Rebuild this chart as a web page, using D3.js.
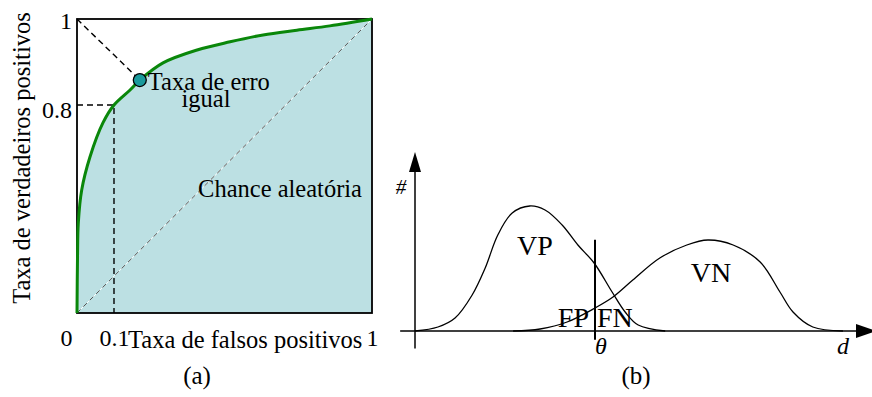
<!DOCTYPE html>
<html>
<head>
<meta charset="utf-8">
<script src="https://cdn.jsdelivr.net/npm/d3@7"></script>
<style>
  body { margin: 0; background: #fff; }
</style>
</head>
<body>
<svg id="fig" width="872" height="397"></svg>
<script>
// (a) ROC curve (false positive rate, true positive rate)
const rocFpr = [0, 0.0014, 0.0035, 0.0127, 0.035, 0.07, 0.1, 0.156, 0.19, 0.271, 0.39, 0.505, 0.62, 0.738, 0.853, 1];
const rocTpr = [0, 0.215, 0.346, 0.473, 0.6, 0.731, 0.8, 0.835, 0.858, 0.898, 0.928, 0.947, 0.963, 0.974, 0.984, 1];
const eerPoint = [0.19, 0.858];
const markPoint = [0.1, 0.8];
const rocXTicks = [0, 0.1, 1];
const rocYTicks = [0.8, 1];

// (b) score distributions (d, count)
const vpD = [0, 0.51, 0.89, 1.27, 1.56, 1.84, 2.16, 2.55, 2.89, 3.27, 3.62, 3.98, 4.38, 4.67, 4.96, 5.56];
const vpH = [0, 0.032, 0.104, 0.288, 0.504, 0.768, 0.944, 1.0, 0.968, 0.848, 0.688, 0.544, 0.312, 0.152, 0.048, 0];
const vnD = [2.18, 2.78, 3.38, 4.0, 4.4, 4.84, 5.44, 6.04, 6.51, 7.07, 7.67, 8.11, 8.4, 8.84, 9.51];
const vnH = [0, 0.016, 0.072, 0.184, 0.272, 0.408, 0.584, 0.688, 0.728, 0.688, 0.552, 0.312, 0.152, 0.032, 0];
const theta = 4.0;

const FONT = "'Liberation Serif', 'Times New Roman', serif";
const svg = d3.select("#fig");

function label(g, x, y, txt, size, anchor, italic) {
  return g.append("text")
    .attr("x", x).attr("y", y)
    .attr("text-anchor", anchor || "start")
    .attr("font-family", FONT)
    .attr("font-size", size)
    .attr("font-style", italic ? "italic" : "normal")
    .attr("fill", "#000")
    .text(txt);
}

// ---------- panel (a) ----------
// the sketch is not to scale: 0.1 and 0.8 sit where the drawing puts them
const xA = d3.scaleLinear().domain([0, 0.1, 1]).range([77, 114, 372]);
const yA = d3.scaleLinear().domain([0, 0.8, 1]).range([313, 105, 19]);

const roc = rocFpr.map((f, i) => [f, rocTpr[i]]);
const gA = svg.append("g");

const area = d3.area()
  .x(d => xA(d[0]))
  .y0(yA(0))
  .y1(d => yA(d[1]))
  .curve(d3.curveCatmullRom.alpha(0.5));

gA.append("path")
  .datum(roc)
  .attr("d", area)
  .attr("fill", "#bce0e3");

// chance line
gA.append("line")
  .attr("x1", xA(0)).attr("y1", yA(0))
  .attr("x2", xA(1)).attr("y2", yA(1))
  .attr("stroke", "#fff").attr("stroke-width", 1);
gA.append("line")
  .attr("x1", xA(0)).attr("y1", yA(0))
  .attr("x2", xA(1)).attr("y2", yA(1))
  .attr("stroke", "#555").attr("stroke-width", 1)
  .attr("stroke-dasharray", "5,4");

// dashed guides
gA.append("path")
  .attr("d", d3.line()([[xA(0), yA(markPoint[1])], [xA(markPoint[0]), yA(markPoint[1])], [xA(markPoint[0]), yA(0)]]))
  .attr("fill", "none").attr("stroke", "#000").attr("stroke-width", 1.4)
  .attr("stroke-dasharray", "6,4");
gA.append("line")
  .attr("x1", xA(0)).attr("y1", yA(1))
  .attr("x2", xA(eerPoint[0])).attr("y2", yA(eerPoint[1]))
  .attr("stroke", "#000").attr("stroke-width", 1.4)
  .attr("stroke-dasharray", "6,4");

// frame
gA.append("rect")
  .attr("x", xA(0)).attr("y", yA(1))
  .attr("width", xA(1) - xA(0)).attr("height", yA(0) - yA(1))
  .attr("fill", "none").attr("stroke", "#000").attr("stroke-width", 1.8);

gA.append("path")
  .datum(roc)
  .attr("d", d3.line().x(d => xA(d[0])).y(d => yA(d[1])).curve(d3.curveCatmullRom.alpha(0.5)))
  .attr("fill", "none").attr("stroke", "#0a870a").attr("stroke-width", 3);

gA.append("circle")
  .attr("cx", xA(eerPoint[0])).attr("cy", yA(eerPoint[1])).attr("r", 6.5)
  .attr("fill", "#1a9a9c").attr("stroke", "#000").attr("stroke-width", 1.3);

// ticks
const axX = gA.append("g")
  .attr("transform", "translate(0," + yA(0) + ")")
  .call(d3.axisBottom(xA).tickValues(rocXTicks).tickSize(0).tickPadding(16).tickFormat(d3.format("")));
axX.select(".domain").remove();
axX.attr("font-family", FONT).attr("font-size", 24);
axX.selectAll("text").attr("dx", d => d === 0 ? -11 : 0);

const axY = gA.append("g")
  .attr("transform", "translate(" + xA(0) + ",0)")
  .call(d3.axisLeft(yA).tickValues(rocYTicks).tickSize(0).tickPadding(5).tickFormat(d3.format("")));
axY.select(".domain").remove();
axY.attr("font-family", FONT).attr("font-size", 24);
axY.selectAll("text").attr("dy", d => d === 1 ? "0.4em" : "0.5em");

// labels
label(gA, 128, 348, "Taxa de falsos positivos", 24.5);
label(gA, 0, 0, "Taxa de verdadeiros positivos", 24.5, "middle")
  .attr("x", null).attr("y", null)
  .attr("transform", "translate(30,158) rotate(-90)");
label(gA, 362, 197, "Chance aleatória", 24.5, "end");
label(gA, xA(eerPoint[0]) + 8, 90, "Taxa de erro", 24.5);
label(gA, 206, 107, "igual", 24.5, "middle");
label(gA, 197, 384, "(a)", 25, "middle");

// ---------- panel (b) ----------
const xB = d3.scaleLinear().domain([0, 10]).range([415, 865]);
const yB = d3.scaleLinear().domain([0, 1]).range([331, 206]);
const gB = svg.append("g");

const lineB = d3.line().x(d => xB(d[0])).y(d => yB(d[1])).curve(d3.curveCatmullRom.alpha(0.5));

gB.append("path").datum(vpD.map((d, i) => [d, vpH[i]]))
  .attr("d", lineB).attr("fill", "none").attr("stroke", "#000").attr("stroke-width", 1.3);
gB.append("path").datum(vnD.map((d, i) => [d, vnH[i]]))
  .attr("d", lineB).attr("fill", "none").attr("stroke", "#000").attr("stroke-width", 1.3);

// axes with arrows
gB.append("line")
  .attr("x1", xB(-0.33)).attr("y1", yB(0)).attr("x2", 858).attr("y2", yB(0))
  .attr("stroke", "#000").attr("stroke-width", 1.5);
gB.append("path")
  .attr("d", d3.line()([[856, yB(0) - 7], [876, yB(0)], [856, yB(0) + 7]]) + "Z")
  .attr("fill", "#000");
gB.append("line")
  .attr("x1", xB(0)).attr("y1", yB(-0.14)).attr("x2", xB(0)).attr("y2", 170)
  .attr("stroke", "#000").attr("stroke-width", 1.5);
gB.append("path")
  .attr("d", d3.line()([[xB(0) - 6, 172], [xB(0), 152], [xB(0) + 6, 172]]) + "Z")
  .attr("fill", "#000");

// threshold
gB.append("line")
  .attr("x1", xB(theta)).attr("y1", yB(0.73))
  .attr("x2", xB(theta)).attr("y2", yB(-0.07))
  .attr("stroke", "#000").attr("stroke-width", 2);

label(gB, 535, 255, "VP", 28, "middle");
label(gB, 711, 282, "VN", 28, "middle");
label(gB, xB(theta) - 6, 327, "FP", 28, "end");
label(gB, xB(theta) + 2, 327, "FN", 28);
label(gB, 601, 354, "θ", 24, "middle", true);
label(gB, 843, 354, "d", 24, "middle", true);
label(gB, 401, 194, "#", 21, "middle", true);
label(gB, 636, 384, "(b)", 25, "middle");
</script>
</body>
</html>
